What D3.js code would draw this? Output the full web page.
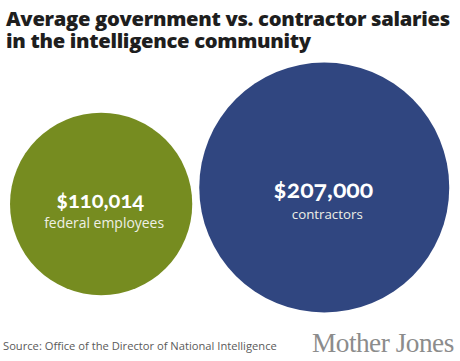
<!DOCTYPE html>
<html>
<head>
<meta charset="utf-8">
<script src="https://cdn.jsdelivr.net/npm/d3@7"></script>
<style>
  html, body { margin: 0; padding: 0; background: #ffffff; }
  svg { display: block; }
</style>
</head>
<body>
<script>
// ---- data ----
const categories = ["federal employees", "contractors"];
const values = [110014, 207000];
const valueLabels = ["$110,014", "$207,000"];
const colors = ["#768c20", "#304680"];
const titleLines = ["Average government vs. contractor salaries", "in the intelligence community"];
const sourceText = "Source: Office of the Director of National Intelligence";
const brandText = "Mother Jones";

// ---- layout ----
const W = 460, H = 361;
const svg = d3.select("body").append("svg").attr("width", W).attr("height", H);

function fit(sel, target) {
  const fs = parseFloat(sel.attr("font-size"));
  const w = sel.node().getComputedTextLength();
  if (w > 0) sel.attr("font-size", (fs * target / w).toFixed(2));
}

// title (one text element, two lines)
const titleFont = "'Open Sans', 'Noto Sans', sans-serif";
const tWidths = [445, 306];
const tBase = [26, 48];
const title = svg.append("text")
  .attr("font-family", titleFont).attr("font-weight", 800)
  .attr("fill", "#1e1e1e").attr("letter-spacing", -0.3);
titleLines.forEach((t, i) => {
  const s = title.append("tspan").attr("x", 6).attr("y", tBase[i])
    .attr("font-size", 22).text(t);
  fit(s, tWidths[i]);
});

// circles
const r = d3.scaleSqrt().domain([0, d3.max(values)]).range([0, 125]);
const leftEdge = 10, gap = 7;
const cx = [];
values.forEach((v, i) => {
  if (i === 0) cx.push(leftEdge + r(v));
  else cx.push(cx[i - 1] + r(values[i - 1]) + gap + r(v));
});
const cy = [204, 187.5];

const g = svg.append("g");
g.selectAll("circle").data(values).join("circle")
  .attr("cx", (d, i) => cx[i]).attr("cy", (d, i) => cy[i])
  .attr("r", d => r(d)).attr("fill", (d, i) => colors[i]);

const valDy = [3.5, 10];
const labDy = [24, 31];
const valW = [88, 100];
const labW = [120, 71];
valueLabels.forEach((t, i) => {
  const s = svg.append("text").attr("x", cx[i] - 1).attr("y", cy[i] + valDy[i])
    .attr("text-anchor", "middle").attr("font-family", "'Lato', 'Open Sans', sans-serif")
    .attr("font-weight", 700).attr("font-size", 22).attr("fill", "#ffffff")
    .style("font-variant-numeric", "oldstyle-nums").text(t);
  fit(s, valW[i]);
  const l = svg.append("text").attr("x", cx[i] + 3).attr("y", cy[i] + labDy[i])
    .attr("text-anchor", "middle").attr("font-family", "'Open Sans', 'Noto Sans', sans-serif")
    .attr("font-size", 14).attr("fill", "#eef0e6").text(categories[i]);
  fit(l, labW[i]);
});

// footer
const src = svg.append("text").attr("x", 3).attr("y", 350)
  .attr("font-family", "'Open Sans', 'Noto Sans', sans-serif").attr("font-size", 11)
  .attr("fill", "#5a5a5a").text(sourceText);
fit(src, 274);

const brand = svg.append("text").attr("x", 312).attr("y", 352)
  .attr("font-family", "'Liberation Serif', 'DejaVu Serif', serif").attr("font-size", 24)
  .attr("fill", "#8c8c8c").attr("letter-spacing", -0.5).text(brandText);
fit(brand, 141);
</script>
</body>
</html>
